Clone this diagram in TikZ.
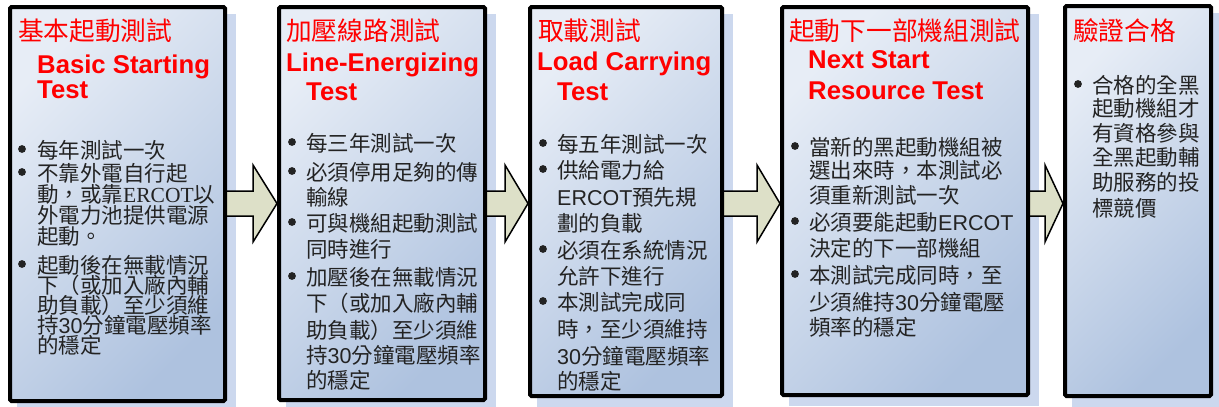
\documentclass[tikz,border=0pt]{standalone}
\usepackage{fontspec}
\setmainfont{Liberation Sans}
\newfontfamily\cjk{Noto Sans CJK TC}
\newfontfamily\lat{Liberation Sans}
\newfontfamily\latserif{Liberation Serif}
\usetikzlibrary{calc}
\pgfdeclarelayer{background}
\pgfdeclarelayer{mid}
\pgfsetlayers{background,mid,main}

\definecolor{boxlight}{RGB}{231,237,246}
\definecolor{boxdark}{RGB}{174,194,223}
\definecolor{shadowc}{RGB}{204,216,238}
\definecolor{arrowfill}{RGB}{221,224,200}
\definecolor{bodytext}{RGB}{35,35,35}
\definecolor{titlered}{RGB}{255,0,0}

\tikzset{
  box/.style={draw=black, line width=4pt, rounded corners=1.5pt,
    top color=boxlight, bottom color=boxdark, shading angle=45,
    anchor=north west, inner sep=0pt},
  cjktitle/.style={anchor=base west, inner sep=0pt, text=titlered,
    font=\cjk\fontsize{25.7}{30}\selectfont},
  entitle/.style={anchor=base west, inner sep=0pt, text=titlered,
    font=\bfseries\fontsize{25.7}{30}\selectfont},
  body/.style={anchor=base west, inner sep=0pt, text=bodytext,
    text height=0.8em, text depth=0.08em,
    font=\cjk\fontsize{21.5}{26}\selectfont},
  conn/.style={draw=black, line width=1.5pt, fill=arrowfill, line join=miter},
}

% #1 name prefix, #2 text x, #3 bullet x, #4 list y/bullet/text
\newcommand\bodyblock[4]{%
  \foreach \y/\b/\t [count=\i] in {#4} {
    \node[body] (#1-\i) at (#2,\y) {\t};
    \ifnum\b=1 \fill[bodytext] (#3,\y-9) circle (3.9pt); \fi
  }}

% #1 from node, #2 to node, #3 head length
\newcommand\flowarrow[3]{%
  \begin{pgfonlayer}{mid}
  \draw[conn] let \p1=(#1.east), \p2=(#2.west) in
    (\x1-3pt,-191pt) -- (\x2-#3pt,-191pt) -- (\x2-#3pt,-165pt)
    -- (\x2,-203.5pt) -- (\x2-#3pt,-242pt) -- (\x2-#3pt,-216pt)
    -- (\x1-3pt,-216pt) -- cycle;
  \end{pgfonlayer}}

\begin{document}
\begin{tikzpicture}[x=1pt,y=-1pt]
\useasboundingbox (0,0) rectangle (1219,407);

% boxes
\node[box, minimum width=215pt, minimum height=394pt] (b1) at (8,5) {};
\node[box, minimum width=206pt, minimum height=393pt] (b2) at (277,5) {};
\node[box, minimum width=192pt, minimum height=389pt] (b3) at (528,5) {};
\node[box, minimum width=246pt, minimum height=388pt] (b4) at (780,5) {};
\node[box, minimum width=146pt, minimum height=390pt] (b5) at (1063,4) {};

% shadows
\begin{pgfonlayer}{background}
\foreach \n in {b1,b2,b3,b4,b5}
  \fill[shadowc] ($(\n.north west)+(9,9)$) rectangle ($(\n.south east)+(9,9)$);
\end{pgfonlayer}

% arrows
\flowarrow{b1}{b2}{24}
\flowarrow{b2}{b3}{23}
\flowarrow{b3}{b4}{23}
\flowarrow{b4}{b5}{18}

% titles
\node[cjktitle] (h1) at (18,40) {基本起動測試};
\node[entitle] (e1a) at (37,73) {Basic Starting};
\node[entitle] (e1b) at (37,98) {Test};

\node[cjktitle] (h2) at (286,40) {加壓線路測試};
\node[entitle] (e2a) at (286,71) {Line-Energizing};
\node[entitle] (e2b) at (306,100) {Test};

\node[cjktitle] (h3) at (538,40) {取載測試};
\node[entitle] (e3a) at (537,70) {Load Carrying};
\node[entitle] (e3b) at (557,100) {Test};

\node[cjktitle] (h4) at (789,40) {起動下一部機組測試};
\node[entitle] (e4a) at (808,68) {Next Start};
\node[entitle] (e4b) at (808,99) {Resource Test};

\node[cjktitle] (h5) at (1073,40) {驗證合格};

% body texts
\bodyblock{t1}{37}{22}{158/1/每年測試一次, 181/1/不靠外電自行起,
  202/0/{動，或靠{\latserif ERCOT}以}, 223/0/外電力池提供電源, 244/0/起動。,
  273/1/起動後在無載情況, 293/0/下（或加入廠內輔, 313/0/助負載）至少須維,
  333/0/{持{\lat 30}分鐘電壓頻率}, 353/0/的穩定}

\bodyblock{t2}{306}{292}{151/1/每三年測試一次, 180/1/必須停用足夠的傳,
  205/0/輸線, 231/1/可與機組起動測試, 257/0/同時進行,
  285/1/加壓後在無載情況, 311/0/下（或加入廠內輔, 338/0/助負載）至少須維,
  363/0/{持{\lat 30}分鐘電壓頻率}, 388/0/的穩定}

\bodyblock{t3}{557}{543}{152/1/每五年測試一次, 178/1/供給電力給,
  205/0/{{\lat ERCOT}預先規}, 231/0/劃的負載, 258/1/必須在系統情況,
  284/0/允許下進行, 310/1/本測試完成同, 337/0/時，至少須維持,
  364/0/{{\lat 30}分鐘電壓頻率}, 389/0/的穩定}

\bodyblock{t4}{809}{795}{155/1/當新的黑起動機組被, 178/0/選出來時，本測試必,
  203/0/須重新測試一次, 230/1/{必須要能起動{\lat ERCOT}},
  256/0/決定的下一部機組, 283/1/本測試完成同時，至,
  310/0/{少須維持{\lat 30}分鐘電壓}, 335/0/頻率的穩定}

\bodyblock{t5}{1092}{1078}{93/1/合格的全黑, 116/0/起動機組才, 141/0/有資格參與,
  165/0/全黑起動輔, 190/0/助服務的投, 216/0/標競價}
\end{tikzpicture}
\end{document}
